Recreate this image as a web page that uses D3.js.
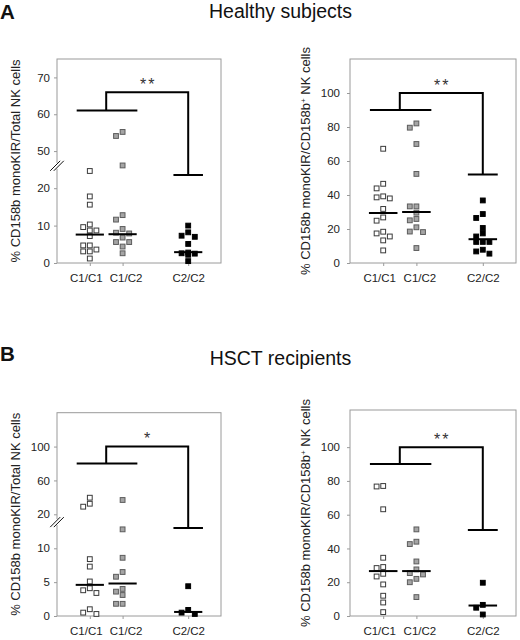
<!DOCTYPE html>
<html>
<head>
<meta charset="utf-8">
<script src="https://cdn.jsdelivr.net/npm/d3@7"></script>
<style>
  body { margin: 0; background: #fff; }
  svg { display: block; font-family: "Liberation Sans", Arial, sans-serif; }
</style>
</head>
<body>
<div id="chart"></div>
<script>
const groups = ["C1/C1", "C1/C2", "C2/C2"];
const groupSlots = [1, 2, 4];

// A: healthy subjects, % of total NK cells (broken axis)
const healthyTotalC1C1 = [24.6, 17.8, 15.6, 10.3, 9.6, 8.7, 8.7, 7.2, 4.7, 4.7, 3.6, 3.1, 3.1, 1.2];
const healthyTotalC1C2 = [55.2, 54.1, 46.1, 12.8, 11.6, 9.1, 8.1, 7.9, 6.8, 5.6, 5.6, 4.4, 2.6];
const healthyTotalC2C2 = [10.0, 8.2, 7.3, 7.0, 5.1, 2.8, 2.6, 2.5, 2.2, 0.5];
const healthyTotalMedians = [7.6, 7.7, 2.9];
const healthyTotalBracket = [61, 66, 23.5];
const healthyTotalTicks = [0, 10, 20, 50, 60, 70];

// A: healthy subjects, % of CD158b+ NK cells
const healthyFracC1C1 = [67.2, 46.6, 43.9, 39.2, 38.6, 38.0, 31.8, 26.8, 24.9, 18.4, 17.4, 15.6, 13.3, 7.4];
const healthyFracC1C2 = [82.1, 79.6, 70.0, 52.4, 33.3, 33.3, 29.6, 25.9, 25.1, 21.0, 18.5, 18.2, 8.8];
const healthyFracC2C2 = [36.8, 28.8, 26.5, 20.6, 17.4, 15.6, 12.4, 12.4, 12.4, 7.8, 6.8, 5.5];
const healthyFracMedians = [29.4, 30.0, 14.0];
const healthyFracBracket = [90, 100, 52];

// B: HSCT recipients, % of total NK cells (broken axis)
const hsctTotalC1C1 = [39.6, 32.5, 29.0, 8.4, 7.3, 5.1, 4.1, 3.8, 3.4, 1.0, 0.5, 0.3];
const hsctTotalC1C2 = [36.9, 12.8, 8.6, 6.5, 5.8, 4.0, 3.6, 3.1, 1.8, 1.8];
const hsctTotalC2C2 = [4.4, 0.9, 0.5, 0.3];
const hsctTotalMedians = [4.6, 4.8, 0.6];
const hsctTotalBracket = [80, 100, 13];
const hsctTotalTicks = [0, 5, 10, 20, 60, 100];

// B: HSCT recipients, % of CD158b+ NK cells
const hsctFracC1C1 = [77.0, 76.7, 63.2, 34.5, 29.0, 28.4, 25.0, 23.4, 18.7, 12.0, 8.0, 2.3];
const hsctFracC1C2 = [51.3, 44.0, 42.6, 32.3, 27.6, 25.4, 24.6, 22.0, 20.0, 11.2];
const hsctFracC2C2 = [19.7, 6.6, 4.9, 0.9];
const hsctFracMedians = [26.6, 26.6, 6.2];
const hsctFracBracket = [90, 100, 51];

const fractionTicks = [0, 20, 40, 60, 80, 100];

const titleTotal = ["% CD158b monoKIR/Total NK cells"];
const titleFrac = ["% CD158b monoKIR/CD158b", "+", " NK cells"];

const fills = ["#ffffff", "#a5a5a5", "#000000"];
const strokes = ["#3a3a3a", "#5c5c5c", "#000000"];

const panels = [
  {
    series: [healthyTotalC1C1, healthyTotalC1C2, healthyTotalC2C2],
    medians: healthyTotalMedians, bracket: healthyTotalBracket, stars: "**",
    ticks: healthyTotalTicks, title: titleTotal, breakAt: 46,
    // piecewise scale: lower 0-25, upper 45-75
    yDomain: [0, 25, 45, 75], yStops: [0, 93.5, 93.5, 204],
    left: 57, right: 221, top: 59, bottom: 263, titleX: 20, pad: 4,
  },
  {
    series: [healthyFracC1C1, healthyFracC1C2, healthyFracC2C2],
    medians: healthyFracMedians, bracket: healthyFracBracket, stars: "**",
    ticks: fractionTicks, title: titleFrac, breakAt: null,
    yDomain: [0, 120], yStops: [0, 204],
    left: 350, right: 516, top: 59, bottom: 263, titleX: 310, pad: 7,
  },
  {
    series: [hsctTotalC1C1, hsctTotalC1C2, hsctTotalC2C2],
    medians: hsctTotalMedians, bracket: hsctTotalBracket, stars: "*",
    ticks: hsctTotalTicks, title: titleTotal, breakAt: 16,
    // piecewise scale: lower 0-13, upper 20-140
    yDomain: [0, 13, 20, 140], yStops: [0, 88, 101.7, 203.3],
    left: 57, right: 221, top: 412.7, bottom: 616, titleX: 20, pad: 4,
  },
  {
    series: [hsctFracC1C1, hsctFracC1C2, hsctFracC2C2],
    medians: hsctFracMedians, bracket: hsctFracBracket, stars: "**",
    ticks: fractionTicks, title: titleFrac, breakAt: null,
    yDomain: [0, 122], yStops: [0, 206],
    left: 350, right: 516, top: 410, bottom: 616, titleX: 310, pad: 7,
  },
];

const headers = [
  { letter: "A", text: "Healthy subjects", letterY: 18.8, textY: 18 },
  { letter: "B", text: "HSCT recipients", letterY: 361, textY: 365 },
];

const wrapper = d3.select("#chart")
  .append("svg")
  .attr("width", 520)
  .attr("height", 640);

headers.forEach((h) => {
  wrapper.append("text")
    .attr("x", 0)
    .attr("y", h.letterY)
    .attr("font-size", 20.5)
    .attr("font-weight", "bold")
    .attr("fill", "#111")
    .text(h.letter);
  wrapper.append("text")
    .attr("x", 280.5)
    .attr("y", h.textY)
    .attr("text-anchor", "middle")
    .attr("font-size", 19.5)
    .attr("fill", "#111")
    .text(h.text);
});

// spread overlapping squares sideways, like a dot plot
function dodge(values, yScale) {
  const offsets = [0, -6.6, 6.6, -3.3, 3.3, -9.9, 9.9];
  const placed = [];
  values.forEach((v) => {
    const cy = yScale(v);
    const dx = offsets.find((o) => placed.every((p) =>
      Math.abs(p.cy - cy) >= 5.2 || Math.abs(p.dx - o) >= 5.2)) ?? 0;
    placed.push({ value: v, cy, dx });
  });
  return placed;
}

function drawPanel(p) {
  const height = p.bottom - p.top;
  const xScale = d3.scaleLinear()
    .domain([0, 5])
    .range([p.left, p.right]);

  const yScale = d3.scaleLinear()
    .domain(p.yDomain)
    .range(p.yStops.map((s) => p.bottom - s));

  const bounds = wrapper.append("g");

  bounds.append("rect")
    .attr("x", p.left)
    .attr("y", p.top)
    .attr("width", p.right - p.left)
    .attr("height", height)
    .attr("fill", "none")
    .attr("stroke", "#9a9a9a");

  const yAxis = bounds.append("g")
    .attr("transform", `translate(${p.left},0)`)
    .call(d3.axisLeft(yScale)
      .tickValues(p.ticks)
      .tickFormat(d3.format("d"))
      .tickSize(3)
      .tickSizeOuter(0)
      .tickPadding(p.pad));
  yAxis.select(".domain").remove();
  yAxis.selectAll(".tick line").attr("stroke", "#9a9a9a");
  yAxis.selectAll(".tick text")
    .attr("font-size", 11.5)
    .attr("font-family", "Liberation Sans, Arial, sans-serif")
    .attr("fill", "#222");

  const labelNudge = [-4, 3, 0];
  const xAxis = bounds.append("g")
    .attr("transform", `translate(0,${p.bottom})`)
    .call(d3.axisBottom(xScale)
      .tickValues(groupSlots)
      .tickFormat((d, i) => groups[i])
      .tickSize(3)
      .tickSizeOuter(0)
      .tickPadding(8));
  xAxis.select(".domain").remove();
  xAxis.selectAll(".tick line").attr("stroke", "#9a9a9a");
  xAxis.selectAll(".tick text")
    .attr("font-size", 11.5)
    .attr("font-family", "Liberation Sans, Arial, sans-serif")
    .attr("fill", "#222")
    .attr("dx", (d, i) => labelNudge[i]);

  // axis break marks
  if (p.breakAt !== null) {
    const yb = yScale(p.breakAt);
    bounds.append("rect")
      .attr("x", p.left - 2)
      .attr("y", yb - 3)
      .attr("width", 4)
      .attr("height", 6)
      .attr("fill", "#fff");
    [-1.8, 1.8].forEach((o) => {
      bounds.append("line")
        .attr("x1", p.left + o - 5)
        .attr("y1", yb + 5)
        .attr("x2", p.left + o + 5)
        .attr("y2", yb - 5)
        .attr("stroke", "#111")
        .attr("stroke-width", 1);
    });
  }

  // y title
  const title = bounds.append("text")
    .attr("transform", `translate(${p.titleX},${p.top + height / 2}) rotate(-90)`)
    .attr("text-anchor", "middle")
    .attr("font-size", 13)
    .attr("fill", "#222");
  p.title.forEach((part) => {
    const t = title.append("tspan").text(part);
    if (part === "+") {
      t.attr("font-size", 8).attr("baseline-shift", "super");
    }
  });

  // squares
  const size = 4.8;
  p.series.forEach((values, gi) => {
    const cx = xScale(groupSlots[gi]);
    bounds.append("g")
      .selectAll("rect")
      .data(dodge(values, yScale))
      .join("rect")
      .attr("x", (d) => cx + d.dx - size / 2)
      .attr("y", (d) => d.cy - size / 2)
      .attr("width", size)
      .attr("height", size)
      .attr("fill", fills[gi])
      .attr("stroke", strokes[gi])
      .attr("stroke-width", 1);
  });

  // medians
  bounds.append("g")
    .selectAll("line")
    .data(p.medians)
    .join("line")
    .attr("x1", (d, i) => xScale(groupSlots[i] - 0.43))
    .attr("x2", (d, i) => xScale(groupSlots[i] + 0.43))
    .attr("y1", (d) => yScale(d))
    .attr("y2", (d) => yScale(d))
    .attr("stroke", "#000")
    .attr("stroke-width", 2);

  // significance bracket
  const [barLevel, topLevel, c2Level] = p.bracket;
  const joinX = xScale((groupSlots[0] + groupSlots[1]) / 2);
  const c2X = xScale(groupSlots[2]);
  const bracketPath = d3.path();
  bracketPath.moveTo(xScale(groupSlots[0] - 0.4), yScale(barLevel));
  bracketPath.lineTo(xScale(groupSlots[1] + 0.45), yScale(barLevel));
  bracketPath.moveTo(joinX, yScale(barLevel));
  bracketPath.lineTo(joinX, yScale(topLevel));
  bracketPath.lineTo(c2X, yScale(topLevel));
  bracketPath.lineTo(c2X, yScale(c2Level));
  bracketPath.moveTo(xScale(groupSlots[2] - 0.45), yScale(c2Level));
  bracketPath.lineTo(xScale(groupSlots[2] + 0.45), yScale(c2Level));

  bounds.append("path")
    .attr("d", bracketPath.toString())
    .attr("fill", "none")
    .attr("stroke", "#000")
    .attr("stroke-width", 2);

  bounds.append("text")
    .attr("x", (joinX + c2X) / 2 + 1)
    .attr("y", yScale(topLevel) - 2.5)
    .attr("text-anchor", "middle")
    .attr("font-size", 16)
    .attr("letter-spacing", 2)
    .attr("fill", "#333")
    .text(p.stars);
}

panels.forEach(drawPanel);
</script>
</body>
</html>
